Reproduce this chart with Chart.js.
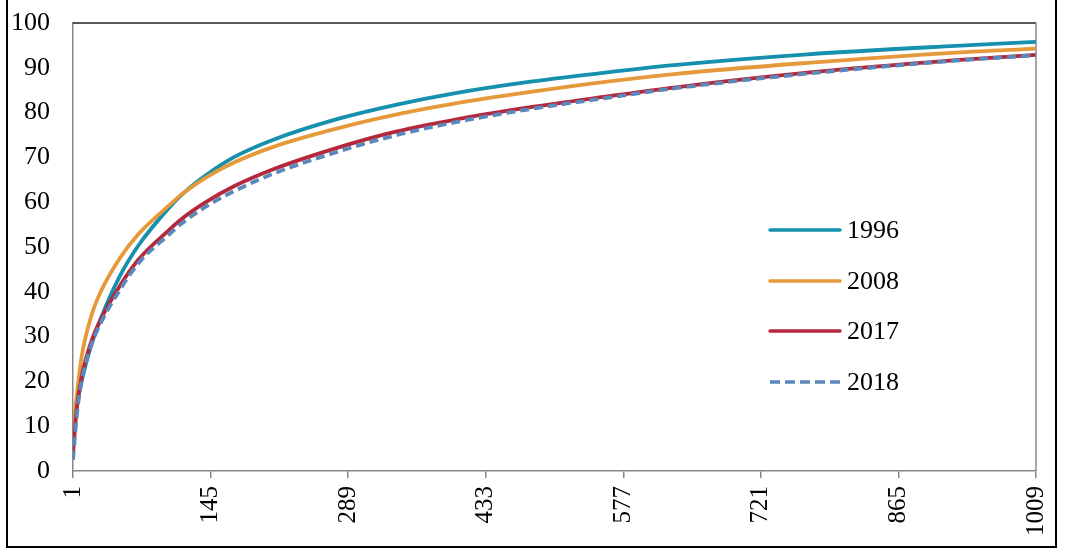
<!DOCTYPE html>
<html>
<head>
<meta charset="utf-8">
<script src="https://cdn.jsdelivr.net/npm/chart.js@4"></script>
<style>
  body{margin:0;background:#fff;overflow:hidden;}
  #wrap{position:relative;width:1074px;height:550px;}
  #frame{position:absolute;left:6px;top:-10px;width:1047px;height:554px;border:2px solid #000;pointer-events:none;}
  canvas{position:absolute;left:0;top:0;}
</style>
</head>
<body>
<div id="wrap">
  <canvas id="chart" width="1074" height="550"></canvas>
  <div id="frame"></div>
</div>
<script>
// rank positions and cumulative shares
const ranks = [1,5,10,20,30,50,70,100,115,140,170,210,280,340,400,480,560,630,770,925,1009];
const s1996 = [8,14.5,20,28,34,43.5,50.5,58.4,61.7,66,70.1,73.9,78.7,81.8,84.3,86.9,89,90.6,93,94.9,95.8];
const s2008 = [9,17,25.5,34.5,40,47.5,53,59,61.8,65.5,68.9,72.3,76.6,79.6,82,84.6,86.9,88.6,91.1,93.4,94.3];
const s2017 = [4,14,21,28.8,33.8,41.3,47.3,53.5,56.3,60,63.6,67.3,72.3,75.8,78.4,81.2,83.6,85.6,88.9,91.7,92.9];
const s2018 = [2.5,12.5,20,28,33,40.4,46.5,52.5,55.3,59,62.5,66.3,71.4,75,77.8,80.8,83.3,85.4,88.7,91.6,92.8];
const years = ['1996','2008','2017','2018'];
const xTicks = [1,145,289,433,577,721,865,1009];

const font = 'Liberation Serif, Times New Roman, serif';
function pts(vals){ return vals.map((v,i)=>({x:ranks[i],y:v})); }

const series = [
  {label:years[0], data:pts(s1996), color:'#1590ad', order:4},
  {label:years[1], data:pts(s2008), color:'#e6993a', order:3},
  {label:years[2], data:pts(s2017), color:'#b5283c', order:2},
  {label:years[3], data:pts(s2018), color:'#5b88ba', order:1, dash:[9,5]}
];

// legend drawn inside the plot, right side
const insideLegend = {
  id:'insideLegend',
  afterDraw(chart){
    const ctx=chart.ctx;
    const ys=[230,281,331,382];
    ctx.save();
    chart.data.datasets.forEach((d,i)=>{
      const dashed=d.borderDash && d.borderDash.length;
      ctx.beginPath();
      ctx.lineWidth=3.5;
      ctx.lineCap=dashed?'butt':'round';
      ctx.strokeStyle=d.borderColor;
      ctx.setLineDash(dashed?[10,5]:[]);
      ctx.moveTo(770,ys[i]); ctx.lineTo(840,ys[i]);
      ctx.stroke();
      ctx.setLineDash([]);
      ctx.fillStyle='#000';
      ctx.font='26px '+font;
      ctx.textBaseline='middle';
      ctx.textAlign='left';
      ctx.fillText(d.label,847,ys[i]+1);
    });
    ctx.restore();
  }
};

// dark box round the plot area
const plotBox = {
  id:'plotBox',
  beforeDatasetsDraw(chart){
    const a=chart.chartArea, ctx=chart.ctx;
    ctx.save();
    ctx.strokeStyle='#222';
    ctx.lineWidth=1.5;
    ctx.beginPath();
    ctx.moveTo(a.left,a.top); ctx.lineTo(a.right,a.top);
    ctx.stroke();
    ctx.strokeStyle='#888';
    ctx.beginPath();
    ctx.moveTo(a.right,a.top); ctx.lineTo(a.right,a.bottom);
    ctx.stroke();
    ctx.restore();
  }
};

new Chart(document.getElementById('chart').getContext('2d'),{
  type:'line',
  data:{
    datasets:series.map(s=>({
      label:s.label,
      data:s.data,
      borderColor:s.color,
      backgroundColor:s.color,
      borderWidth:3.8,
      borderDash:s.dash||[],
      pointRadius:0,
      fill:false,
      order:s.order,
      cubicInterpolationMode:'monotone'
    }))
  },
  options:{
    responsive:false,
    animation:false,
    layout:{padding:{left:0,top:23,right:34,bottom:0}},
    plugins:{legend:{display:false},tooltip:{enabled:false}},
    scales:{
      x:{
        type:'linear',
        min:1,max:1009,
        afterBuildTicks:scale=>{ scale.ticks=xTicks.map(v=>({value:v})); },
        afterFit:scale=>{ scale.height=79; },
        grid:{drawOnChartArea:false,drawTicks:true,tickLength:7,color:'#888',lineWidth:1.5},
        border:{color:'#888',width:1.5},
        ticks:{
          autoSkip:false,minRotation:90,maxRotation:90,padding:8,
          color:'#000',font:{family:font,size:25},
          callback:v=>String(v)
        }
      },
      y:{
        min:0,max:100,
        afterFit:scale=>{ scale.width=73; scale.paddingTop=0; scale.paddingBottom=0; },
        grid:{display:false,drawTicks:false},
        border:{color:'#888',width:1.5},
        ticks:{stepSize:10,padding:23,color:'#000',font:{family:font,size:26}}
      }
    }
  },
  plugins:[plotBox,insideLegend]
});
</script>
</body>
</html>
